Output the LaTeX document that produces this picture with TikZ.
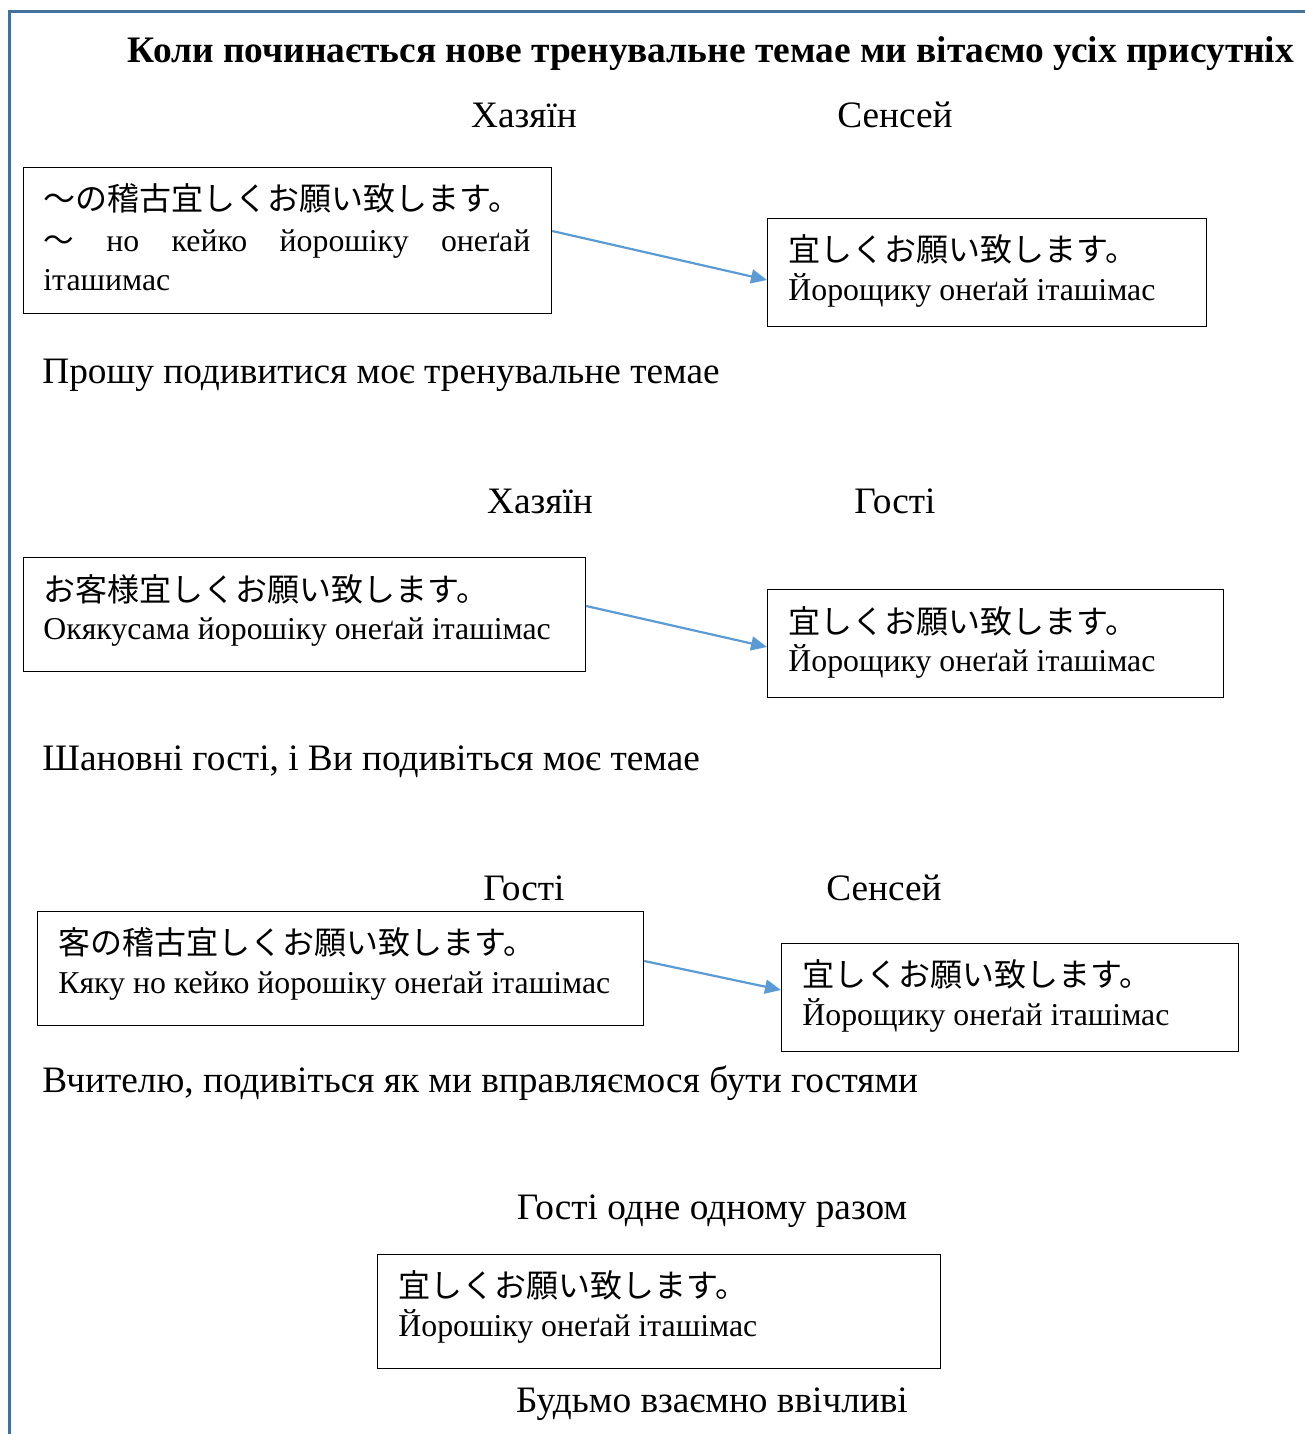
\documentclass[tikz,border=0pt]{standalone}
\usepackage{fontspec}
\setmainfont{Liberation Serif}
\newfontfamily\jp{Noto Sans CJK JP}
\usetikzlibrary{arrows.meta}
\definecolor{framec}{HTML}{41719C}
\definecolor{arrowc}{HTML}{5B9BD5}
\tikzset{
  px/.style={x=0.5pt,y=-0.5pt},
  box/.style={draw=black,line width=0.6pt,rectangle,inner sep=0pt},
  jpline/.style={anchor=west,inner sep=0pt,font=\jp\fontsize{16pt}{19pt}\selectfont},
  cyline/.style={anchor=mid west,inner sep=0pt,yshift=-3pt,font=\fontsize{15.9pt}{19pt}\selectfont},
  lbl/.style={inner sep=0pt,font=\fontsize{18.65pt}{22pt}\selectfont},
  lbll/.style={lbl,anchor=mid west,yshift=-3.5pt},
  ttl/.style={inner sep=0pt,font=\bfseries\fontsize{18.7pt}{22pt}\selectfont},
  conn/.style={draw=arrowc,line width=1.1pt,-{Triangle[length=8pt,width=7pt]}}
}
\begin{document}
\begin{tikzpicture}[px]
\useasboundingbox (0,0) rectangle (1305,1434);
% frame
\draw[framec,line width=1.5pt] (9,1434) -- (9,12) -- (1305,12);
% title
\node[ttl] (title) at (711,54) {Коли починається нове тренувальне темае ми вітаємо усіх присутніх};
% section 1
\node[lbl] (h1) at (524,115) {Хазяїн};
\node[lbl] (s1) at (895,115) {Сенсей};
\node[box,minimum width=264pt,minimum height=73pt,anchor=north west] (b1) at (23,167) {};
\node[jpline] (b1a) at (43,198) {〜の稽古宜しくお願い致します。};
\node[cyline] (b1b) at (43,241) {\hbox to 243.5pt{{\jp\fontsize{15.3pt}{18pt}\selectfont 〜}\hfill но\hfill кейко\hfill йорошіку\hfill онеґай}};
\node[cyline] (b1c) at (43,280) {іташимас};
\node[box,minimum width=219.5pt,minimum height=54pt,anchor=north west] (b2) at (767,218) {};
\node[jpline] (b2a) at (788,249) {宜しくお願い致します。};
\node[cyline] (b2b) at (788,290) {Йорощику онеґай іташімас};
\draw[conn] (b1.east |- 0,231) -- (b2.west |- 0,280);
\node[lbll] (t1) at (42,372) {Прошу подивитися моє тренувальне темае};
% section 2
\node[lbl] (h2) at (540,501) {Хазяїн};
\node[lbl] (g2) at (895,501) {Гості};
\node[box,minimum width=281pt,minimum height=57pt,anchor=north west] (b3) at (23,557) {};
\node[jpline] (b3a) at (43,589) {お客様宜しくお願い致します。};
\node[cyline] (b3b) at (43,629) {Окякусама йорошіку онеґай іташімас};
\node[box,minimum width=228pt,minimum height=54pt,anchor=north west] (b4) at (767,589) {};
\node[jpline] (b4a) at (788,621) {宜しくお願い致します。};
\node[cyline] (b4b) at (788,661) {Йорощику онеґай іташімас};
\draw[conn] (b3.east |- 0,606) -- (b4.west |- 0,647);
\node[lbll] (t2) at (42,759) {Шановні гості, і Ви подивіться моє темае};
% section 3
\node[lbl] (g3) at (524,888) {Гості};
\node[lbl] (s3) at (884,888) {Сенсей};
\node[box,minimum width=303pt,minimum height=57pt,anchor=north west] (b5) at (37,911) {};
\node[jpline] (b5a) at (58,942) {客の稽古宜しくお願い致します。};
\node[cyline] (b5b) at (58,983) {Кяку но кейко йорошіку онеґай іташімас};
\node[box,minimum width=228.5pt,minimum height=54pt,anchor=north west] (b6) at (781,943) {};
\node[jpline] (b6a) at (802,974) {宜しくお願い致します。};
\node[cyline] (b6b) at (802,1015) {Йорощику онеґай іташімас};
\draw[conn] (b5.east |- 0,961) -- (b6.west |- 0,990);
\node[lbll] (t3) at (42,1081) {Вчителю, подивіться як ми вправляємося бути гостями};
% section 4
\node[lbl] (g4) at (712,1211) {Гості одне одному разом};
\node[box,minimum width=281.5pt,minimum height=57pt,anchor=north west] (b7) at (377,1254) {};
\node[jpline] (b7a) at (398,1285) {宜しくお願い致します。};
\node[cyline] (b7b) at (398,1326) {Йорошіку онеґай іташімас};
\node[lbl] (t4) at (712,1404) {Будьмо взаємно ввічливі};
\end{tikzpicture}
\end{document}
